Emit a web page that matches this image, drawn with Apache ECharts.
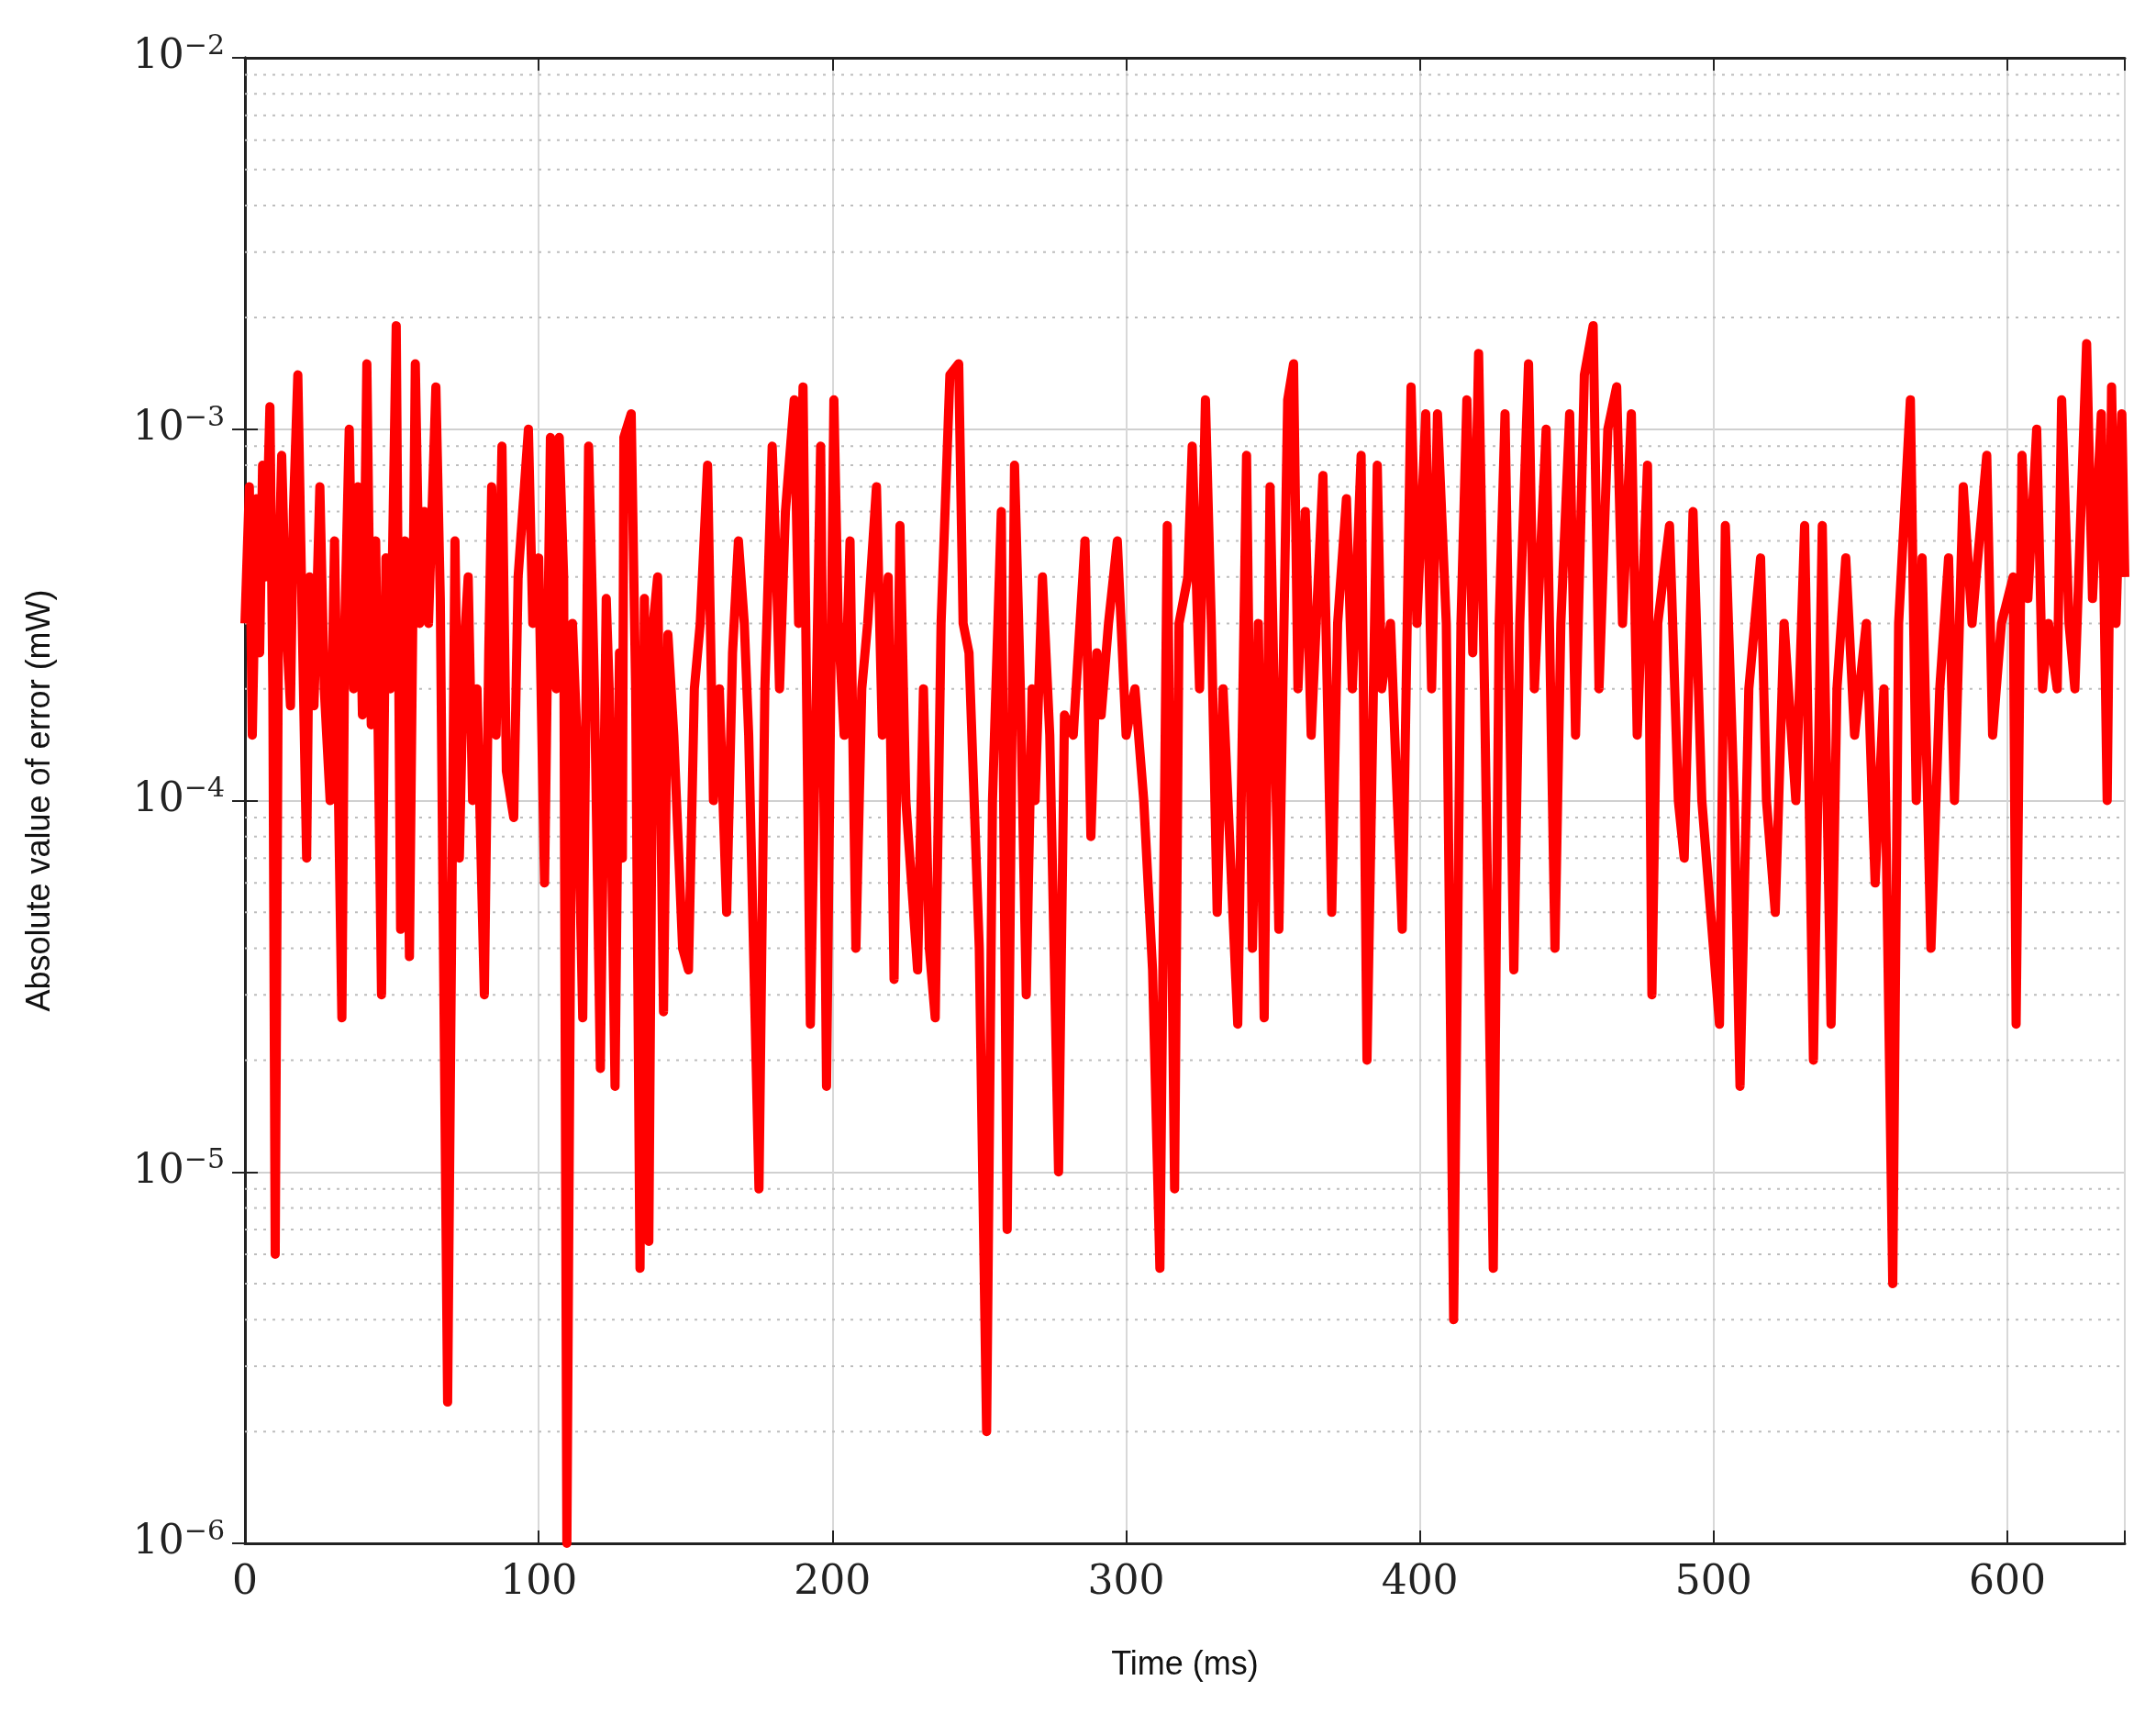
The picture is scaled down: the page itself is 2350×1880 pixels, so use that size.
<!DOCTYPE html>
<html><head><meta charset="utf-8">
<script src="https://cdn.jsdelivr.net/npm/echarts@6/dist/echarts.min.js"></script>
<style>html,body{margin:0;padding:0;background:#fff}#c{width:2350px;height:1880px}</style>
</head><body><div id="c"></div>
<script>
const times = [0,1.5,2.5,4,5,6,7,8.5,9.5,10.3,11.5,12.5,14,15.5,16.5,18,19.5,21,22,23.5,25.5,27,29,30.5,33,34,35.5,37,38.5,40,41.5,43,44.5,46.5,48,49.5,51.5,53,54.5,56,58,59.5,61,62.5,65,66.5,69,71.5,73,74.5,76,77.5,79,81.5,83,84,85.5,87.5,89,91.5,93,96.5,98,100,102,104,106,107,108.5,109.6,111.5,113,115,117,119,121,123,124,126,127.5,128.5,129,131.5,133,134.5,136,137.5,139,140.5,142.5,144,146,149,151,153,155,157.5,159.5,161.5,164,166,168,170,171.5,175,177,179.5,181,182,184,187,188.5,190,192.5,196,198,200.5,202,204,206,208,210,212,215,217,219,221,223,225,229,231,233,235,237,240,243,244.5,246.5,250,252.5,254.5,257.5,259.5,262,264,266,268,269,271.5,274,277,279,282,286,288,290,291.5,294,297,300,303,306,309,311.5,314,316.5,318,321,322.5,325,327,329,331,333,338,341,343,345,347,349,352,355,357,358.5,361,363,367,370,372,375,377,380,382,385.5,387,390,394,397,399,402,404,406,409,411.5,414,416,418,420,422,425,427,429,432,434,437,439,443,446,448,451,453,456,459,461,464,467,469,472,474,477.5,479,481,485,488,490,493,496,499,502,504,507,509,512,516,518,521,524,528,531,534,537,540,542,545,548,552,555,558,561,563,567,569,571,574,577,580,582,585,588,593,595,598,602,603,605,607,610,612,614,617,618.5,621,623,627,629,632,634,635.5,637,639,640];
const errors = [3e-4,7e-4,1.5e-4,6.5e-4,2.5e-4,8e-4,4e-4,1.15e-3,2e-4,6e-6,4e-4,8.5e-4,3e-4,1.8e-4,6e-4,1.4e-3,3e-4,7e-5,4e-4,1.8e-4,7e-4,2e-4,1e-4,5e-4,2.6e-5,3e-4,1e-3,2e-4,7e-4,1.7e-4,1.5e-3,1.6e-4,5e-4,3e-5,4.5e-4,2e-4,1.9e-3,4.5e-5,5e-4,3.8e-5,1.5e-3,3e-4,6e-4,3e-4,1.3e-3,3.5e-4,2.4e-6,5e-4,7e-5,2.5e-4,4e-4,1e-4,2e-4,3e-5,2.5e-4,7e-4,1.5e-4,9e-4,1.2e-4,9e-5,4e-4,1e-3,3e-4,4.5e-4,6e-5,9.5e-4,2e-4,9.5e-4,4e-4,1e-6,3e-4,1.5e-4,2.6e-5,9e-4,2e-4,1.9e-5,3.5e-4,2e-4,1.7e-5,2.5e-4,7e-5,9.5e-4,1.1e-3,2e-4,5.5e-6,3.5e-4,6.5e-6,3e-4,4e-4,2.7e-5,2.8e-4,1.5e-4,4e-5,3.5e-5,2e-4,3e-4,8e-4,1e-4,2e-4,5e-5,2.5e-4,5e-4,3e-4,1.5e-4,9e-6,2e-4,9e-4,4e-4,2e-4,6e-4,1.2e-3,3e-4,1.3e-3,2.5e-5,9e-4,1.7e-5,1.2e-3,3e-4,1.5e-4,5e-4,4e-5,2e-4,3e-4,7e-4,1.5e-4,4e-4,3.3e-5,5.5e-4,1e-4,3.5e-5,2e-4,4e-5,2.6e-5,3e-4,1.4e-3,1.5e-3,3e-4,2.5e-4,4e-5,2e-6,1e-4,6e-4,7e-6,8e-4,2e-4,3e-5,2e-4,1e-4,4e-4,1.5e-4,1e-5,1.7e-4,1.5e-4,5e-4,8e-5,2.5e-4,1.7e-4,3e-4,5e-4,1.5e-4,2e-4,1e-4,3.5e-5,5.5e-6,5.5e-4,9e-6,3e-4,4e-4,9e-4,2e-4,1.2e-3,3e-4,5e-5,2e-4,2.5e-5,8.5e-4,4e-5,3e-4,2.6e-5,7e-4,4.5e-5,1.2e-3,1.5e-3,2e-4,6e-4,1.5e-4,7.5e-4,5e-5,3e-4,6.5e-4,2e-4,8.5e-4,2e-5,8e-4,2e-4,3e-4,4.5e-5,1.3e-3,3e-4,1.1e-3,2e-4,1.1e-3,3e-4,4e-6,3e-4,1.2e-3,2.5e-4,1.6e-3,2e-4,5.5e-6,3e-4,1.1e-3,3.5e-5,3e-4,1.5e-3,2e-4,1e-3,4e-5,3e-4,1.1e-3,1.5e-4,1.4e-3,1.9e-3,2e-4,1e-3,1.3e-3,3e-4,1.1e-3,1.5e-4,8e-4,3e-5,3e-4,5.5e-4,1e-4,7e-5,6e-4,1e-4,5e-5,2.5e-5,5.5e-4,1e-4,1.7e-5,2e-4,4.5e-4,1e-4,5e-5,3e-4,1e-4,5.5e-4,2e-5,5.5e-4,2.5e-5,2e-4,4.5e-4,1.5e-4,3e-4,6e-5,2e-4,5e-6,3e-4,1.2e-3,1e-4,4.5e-4,4e-5,2e-4,4.5e-4,1e-4,7e-4,3e-4,8.5e-4,1.5e-4,3e-4,4e-4,2.5e-5,8.5e-4,3.5e-4,1e-3,2e-4,3e-4,2e-4,1.2e-3,3e-4,2e-4,1.7e-3,3.5e-4,1.1e-3,1e-4,1.3e-3,3e-4,1.1e-3,4e-4];
const xTicks = [0,100,200,300,400,500,600];
const decades = [1e-6,1e-5,1e-4,1e-3,1e-2];
const decadeLabels = ['−6','−5','−4','−3','−2'];
const minorLevels = [];
for (let e=-6; e<-2; e++) for (let m=2; m<=9; m++) minorLevels.push(+(m*Math.pow(10,e)).toPrecision(3));

const serif = "'DejaVu Serif', 'Liberation Serif', serif";
const chart = echarts.init(document.getElementById('c'));
const yLab = {
  fontFamily: serif, fontSize: 44, color:'#222', margin: 22,
  formatter: v => { const i = decades.findIndex(d => Math.abs(d - v)/d < 1e-6); return i>=0 ? '10{s|' + decadeLabels[i] + '}' : ''; },
  rich: { s: { fontFamily: serif, fontSize: 30, verticalAlign:'top', padding:[0,0,24,0], color:'#222' } }
};
const minorSeries = minorLevels.map(v => ({
  type:'line', xAxisIndex:0, yAxisIndex:0, data:[[0,v],[640,v]],
  symbol:'none', silent:true, z:1, animation:false,
  lineStyle:{color:'#bdbdbd', type:[3,7], width:2}
}));
chart.setOption({
  animation:false,
  backgroundColor:'#fff',
  grid:{left:267,right:34,top:63,bottom:198,containLabel:false},
  xAxis:[{
    type:'value', min:0, max:640, interval:100,
    name:'Time (ms)', nameLocation:'middle', nameGap:115,
    nameTextStyle:{fontFamily:"'Liberation Sans', Arial, sans-serif", fontSize:36, color:'#111'},
    axisLine:{lineStyle:{color:'#222',width:3}},
    axisTick:{inside:true,length:14,lineStyle:{color:'#222',width:2}},
    axisLabel:{fontFamily:serif,fontSize:44,color:'#222',margin:22, formatter: v => xTicks.includes(v) ? String(v) : ''},
    splitLine:{show:true,lineStyle:{color:'#d8d8d8',width:2}}
  },{
    type:'value', min:0, max:640, interval:100, position:'top',
    axisLine:{show:true,lineStyle:{color:'#222',width:3}},
    axisTick:{inside:true,length:14,lineStyle:{color:'#222',width:2}},
    axisLabel:{show:false}, splitLine:{show:false}
  }],
  yAxis:[{
    type:'log', min:1e-6, max:1e-2, logBase:10,
    name:'Absolute value of error (mW)', nameLocation:'middle', nameGap:205,
    nameTextStyle:{fontFamily:"'Liberation Sans', Arial, sans-serif", fontSize:36, color:'#111'},
    axisLine:{show:true,lineStyle:{color:'#222',width:3}},
    axisTick:{inside:true,length:14,lineStyle:{color:'#222',width:2}},
    axisLabel:yLab,
    splitLine:{show:true,lineStyle:{color:'#d0d0d0',width:2}}
  },{
    type:'log', min:1e-6, max:1e-2, logBase:10, position:'right',
    axisLine:{show:true,lineStyle:{color:'#222',width:3}},
    axisTick:{inside:true,length:14,lineStyle:{color:'#222',width:2}},
    axisLabel:{show:false}, splitLine:{show:false}
  }],
  series: minorSeries.concat([{
    type:'line', xAxisIndex:0, yAxisIndex:0,
    data: times.map((t,i)=>[t,errors[i]]),
    showSymbol:false, symbol:'none',
    lineStyle:{color:'#ff0000',width:10, join:'round'},
    clip:true, z:5
  }])
});
</script></body></html>
